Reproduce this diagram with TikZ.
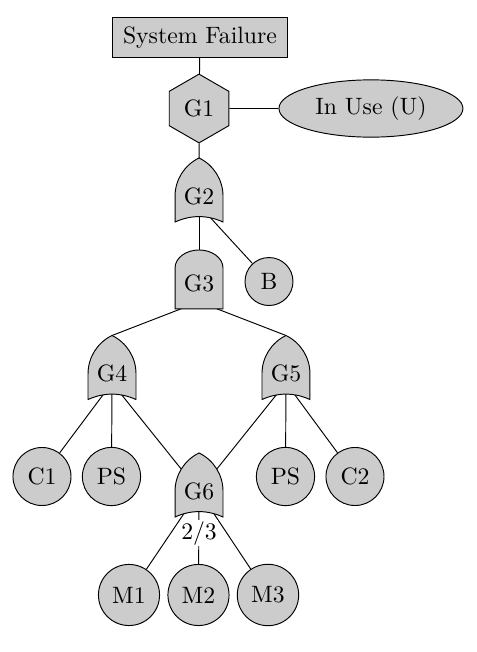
\documentclass[tikz,border=0pt]{standalone}
\usetikzlibrary{shapes.geometric}
\usetikzlibrary{backgrounds}
\begin{document}
\begin{tikzpicture}[
        event/.style={circle, draw=black, fill=gray!40, inner sep=3.7pt},
        gatetext/.style={inner sep=0},
        gate/.style={draw=black, fill=gray!40},
        vote/.style={fill=white, inner sep=0.5pt}
    ]
        \useasboundingbox (0,0) rectangle (7.077,-9.674);

        % Top event, G1 and its condition
        \node[rectangle, draw=black, fill=gray!40, minimum width=2.61cm, minimum height=0.58cm] (top) at (2.967,-0.556) {System Failure};
        \node[regular polygon, regular polygon sides=6, shape border rotate=90, draw=black, fill=gray!40, minimum size=1.02cm, inner sep=0] (G1) at (2.953,-1.61) {G1};
        \node[ellipse, draw=black, fill=gray!40, minimum width=2.73cm, minimum height=0.85cm, inner sep=0] (U) at (5.504,-1.61) {In Use (U)};

        % Gates: name/x/y
        \def\gates{
            G2/2.953/-2.912,
            G3/2.953/-4.209,
            G4/1.662/-5.546,
            G5/4.243/-5.546,
            G6/2.953/-7.289
        }
        \foreach \g/\x/\y in \gates {
            \node[gatetext] (\g) at (\x,\y) {\g};
        }

        % Basic events: name/label/x/y
        \def\events{
            B/B/3.991/-4.177,
            C1/C1/0.623/-7.07,
            PSa/PS/1.654/-7.07,
            PSb/PS/4.236/-7.07,
            C2/C2/5.267/-7.07,
            M1/M1/1.914/-8.828,
            M2/M2/2.945/-8.828,
            M3/M3/3.976/-8.828
        }
        \foreach \e/\label/\x/\y in \events {
            \node[event] (\e) at (\x,\y) {\label};
        }

        % Tip and input points of the OR gates
        \foreach \g in {G2,G4,G5,G6} {
            \coordinate (\g-tip) at ([yshift=0.568cm]\g.center);
            \coordinate (\g-in) at ([yshift=-0.134cm]\g.center);
        }
        \coordinate (G3-in) at ([yshift=-0.27cm]G3.center);

        % 2 out of 3 voting
        \node[vote] (k) at (2.953,-7.91) {2/3};

        \begin{pgfonlayer}{background}
            % Connections
            \draw (top) -- (G1);
            \draw (G1) -- (U);
            \draw (G1) -- (G2-tip);
            \draw (G2-in) -- (G3.center);
            \draw (G2-in) -- (B);
            \draw (G3-in) -- (G4-tip);
            \draw (G3-in) -- (G5-tip);
            \foreach \e in {C1,PSa,G6.center} {
                \draw (G4-in) -- (\e);
            }
            \foreach \e in {G6.center,PSb,C2} {
                \draw (G5-in) -- (\e);
            }
            \foreach \e in {M1,M2,M3} {
                \draw (G6.center) -- (\e);
            }

            % OR gates
            \foreach \g in {G2,G4,G5,G6} {
                \draw[gate, shift={(\g.center)}] (-0.356,-0.382) -- (-0.356,0)
                    .. controls (-0.356,0.242) and (-0.218,0.463) .. (0,0.568)
                    .. controls (0.218,0.463) and (0.356,0.242) .. (0.356,0)
                    -- (0.356,-0.382)
                    .. controls (0.12,-0.275) and (-0.12,-0.275) .. cycle;
            }
            % AND gate
            \draw[gate, shift={(G3.center)}] (-0.356,-0.375) -- (-0.356,0.233)
                .. controls (-0.356,0.38) and (-0.196,0.5) .. (0,0.5)
                .. controls (0.196,0.5) and (0.356,0.38) .. (0.356,0.233)
                -- (0.356,-0.375) -- cycle;
        \end{pgfonlayer}

    \end{tikzpicture}
\end{document}
